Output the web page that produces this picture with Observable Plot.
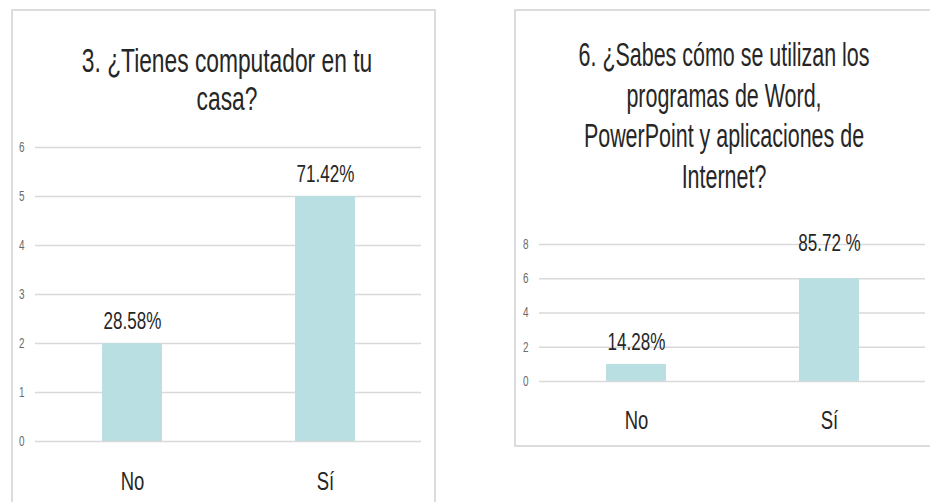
<!DOCTYPE html>
<html><head><meta charset="utf-8">
<script src="https://cdn.jsdelivr.net/npm/d3@7"></script>
<script src="https://cdn.jsdelivr.net/npm/@observablehq/plot@0.6"></script>
<style>
html,body{margin:0;padding:0;background:#fff;width:930px;height:502px;overflow:hidden;}
body{position:relative;font-family:"Liberation Sans",Arial,sans-serif;}
.panel{position:absolute;border:2px solid #dcdcdc;box-sizing:border-box;}
.title{position:absolute;text-align:center;color:#262626;font-size:33px;white-space:nowrap;transform-origin:center top;}
.chart{position:absolute;top:0;}
</style></head><body>
<div class="panel" style="left:11px;top:9px;width:425px;height:600px"></div>
<div class="panel" style="left:514px;top:9px;width:500px;height:438px"></div>
<div id="t1" class="title" style="left:-73px;top:42px;width:600px;line-height:37.5px;transform:scaleX(0.69)"></div>
<div id="t2" class="title" style="left:424px;top:35px;width:600px;line-height:40.7px;transform:scaleX(0.65)"></div>
<div id="c1" class="chart" style="left:0px"></div>
<div id="c2" class="chart" style="left:500px"></div>
<script>
const categories = ["No", "Sí"];
const countsQ3 = [2, 5];
const labelsQ3 = ["28.58%", "71.42%"];
const ticksQ3 = [0, 1, 2, 3, 4, 5, 6];
const titleQ3 = ["3. ¿Tienes computador en tu", "casa?"];

const countsQ6 = [1, 6];
const labelsQ6 = ["14.28%", "85.72 %"];
const ticksQ6 = [0, 2, 4, 6, 8];
const titleQ6 = ["6. ¿Sabes cómo se utilizan los", "programas de Word,", "PowerPoint y aplicaciones de", "Internet?"];

function setTitle(id, lines) {
  const el = document.getElementById(id);
  lines.forEach((l, i) => {
    if (i) el.appendChild(document.createElement("br"));
    el.appendChild(document.createTextNode(l));
  });
}
setTitle("t1", titleQ3);
setTitle("t2", titleQ6);

function squeeze(svg, f) {
  d3.select(svg).selectAll("text").each(function () {
    const len = this.getComputedTextLength();
    if (len > 0) {
      this.setAttribute("textLength", len * f);
      this.setAttribute("lengthAdjust", "spacingAndGlyphs");
    }
  });
}

function makeChart(target, counts, labels, ticks, yMax, opts) {
  const data = categories.map((c, i) => ({cat: c, v: counts[i], label: labels[i]}));
  const labelMarks = categories.map((c, i) => Plot.text(data, {
    filter: d => d.cat === c,
    x: "cat", y: "v", text: "label",
    dy: opts.labelDy[i], lineAnchor: "middle",
    fontSize: 24, fill: "#262626"
  }));
  const svg = Plot.plot({
    width: opts.width, height: 502,
    marginLeft: opts.mL, marginRight: opts.mR, marginTop: opts.mT, marginBottom: opts.mB,
    style: {background: "transparent", fontFamily: "'Liberation Sans', Arial, sans-serif", overflow: "visible"},
    x: {domain: categories, paddingInner: 0.69, paddingOuter: 0.345, label: null},
    y: {domain: [0, yMax], label: null},
    marks: [
      Plot.gridY(ticks, {stroke: "#d9d9d9", strokeOpacity: 1, strokeWidth: 1.5}),
      Plot.barY(data, {x: "cat", y: "v", fill: "#b9dfe3"}),
      Plot.axisY(ticks, {tickSize: 0, tickPadding: 11, fontSize: 14, color: "#6a6a6a", label: null}),
      Plot.axisX({tickSize: 0, tickPadding: opts.xPad, fontSize: 26, color: "#262626", label: null}),
      ...labelMarks
    ]
  });
  document.getElementById(target).appendChild(svg);
  squeeze(svg, 0.71);
}

makeChart("c1", countsQ3, labelsQ3, ticksQ3, 6,
  {width: 440, mL: 35, mR: 19, mT: 147, mB: 61, xPad: 30, labelDy: [-22, -22]});
makeChart("c2", countsQ6, labelsQ6, ticksQ6, 8,
  {width: 430, mL: 39, mR: 5, mT: 244, mB: 121, xPad: 29, labelDy: [-22, -35]});
</script>
</body></html>
